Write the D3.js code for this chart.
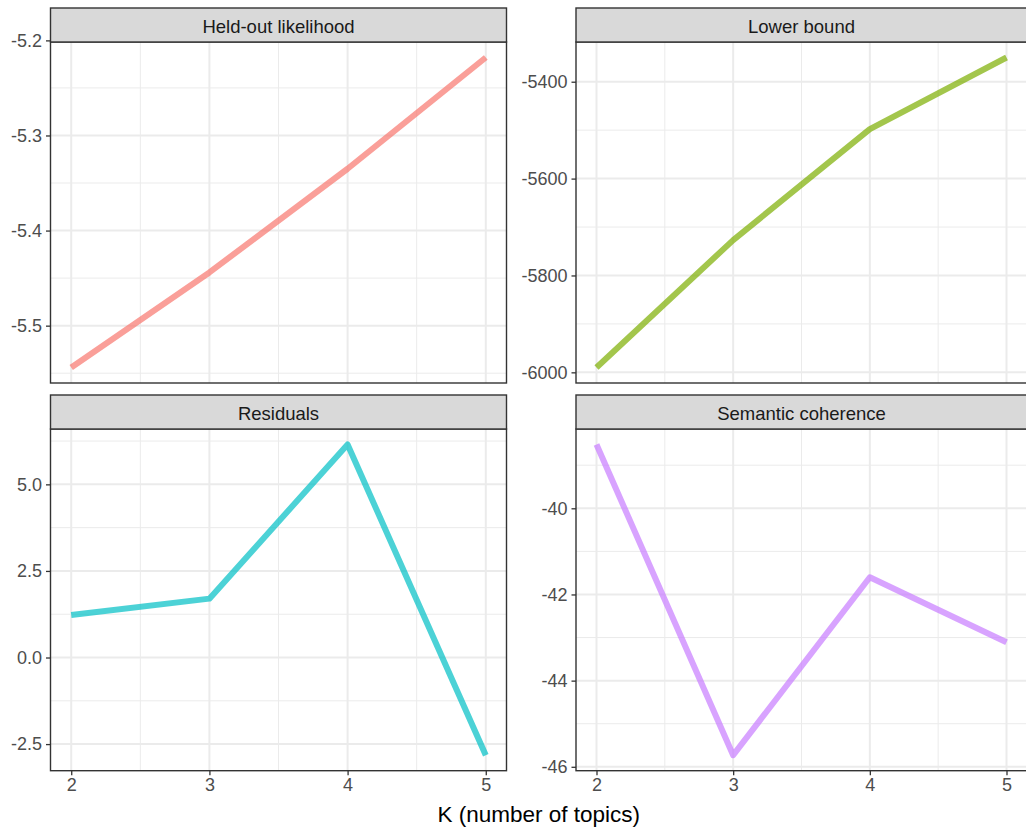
<!DOCTYPE html>
<html>
<head>
<meta charset="utf-8">
<script src="https://cdn.jsdelivr.net/npm/d3@7"></script>
<style>
  body { margin: 0; background: #fff; }
  svg { display: block; font-family: "Liberation Sans", Arial, sans-serif; }
</style>
</head>
<body>
<div id="chart"></div>
<script>
(function() {
  'use strict';

// values
const K = [2, 3, 4, 5];
const heldOut = [-5.544, -5.444, -5.335, -5.218];
const lowerBound = [-5990, -5727, -5498, -5350];
const residuals = [1.23, 1.70, 6.15, -2.82];
const coherence = [-38.52, -45.73, -41.60, -43.11];

const facetNames = ["Held-out likelihood", "Lower bound", "Residuals", "Semantic coherence"];
const facetColors = ["#F8766D", "#7CAE00", "#00BFC4", "#C77CFF"];

const heldOutTicks = [-5.5, -5.4, -5.3, -5.2];
const lowerBoundTicks = [-6000, -5800, -5600, -5400];
const residualTicks = [-2.5, 0, 2.5, 5];
const coherenceTicks = [-46, -44, -42, -40];
const xTicks = [2, 3, 4, 5];

const W = 1026;
const H = 829;

const cols = [{ x0: 50.5, x1: 506.5 }, { x0: 576, x1: 1027 }];
const rows = [{ strip: 8, top: 42, bottom: 383 }, { strip: 395, top: 429, bottom: 770.7 }];

const facets = [
  { name: facetNames[0], values: heldOut, ticks: heldOutTicks, fmt: d => d.toFixed(1), col: 0, row: 0 },
  { name: facetNames[1], values: lowerBound, ticks: lowerBoundTicks, fmt: d => d.toFixed(0), col: 1, row: 0 },
  { name: facetNames[2], values: residuals, ticks: residualTicks, fmt: d => d.toFixed(1), col: 0, row: 1 },
  { name: facetNames[3], values: coherence, ticks: coherenceTicks, fmt: d => d.toFixed(0), col: 1, row: 1 }
];

const svg = d3.select("#chart")
  .append("svg")
    .attr("width", W)
    .attr("height", H);

// ggplot style 5% expansion
function expand(ext) {
  const pad = (ext[1] - ext[0]) * 0.05;
  return [ext[0] - pad, ext[1] + pad];
}

function minorBreaks(ticks, domain) {
  const step = ticks[1] - ticks[0];
  const out = [ticks[0] - step / 2];
  ticks.forEach(t => out.push(t + step / 2));
  return out.filter(v => v >= domain[0] && v <= domain[1]);
}

facets.forEach((f, i) => {
  const c = cols[f.col];
  const r = rows[f.row];

  const x = d3.scaleLinear()
    .domain(expand(d3.extent(K)))
    .range([c.x0, c.x1]);

  const yDomain = expand(d3.extent(f.values));
  const y = d3.scaleLinear()
    .domain(yDomain)
    .range([r.bottom, r.top]);

  const g = svg.append("g").attr("class", "facet");

  // grid
  const xMinor = minorBreaks(xTicks, x.domain());
  const yMinor = minorBreaks(f.ticks, yDomain);

  g.selectAll(".xminor").data(xMinor).enter().append("line")
    .attr("x1", d => x(d)).attr("x2", d => x(d))
    .attr("y1", r.top).attr("y2", r.bottom)
    .attr("stroke", "#EBEBEB").attr("stroke-width", 1);
  g.selectAll(".yminor").data(yMinor).enter().append("line")
    .attr("x1", c.x0).attr("x2", c.x1)
    .attr("y1", d => y(d)).attr("y2", d => y(d))
    .attr("stroke", "#EBEBEB").attr("stroke-width", 1);
  g.selectAll(".xmajor").data(xTicks).enter().append("line")
    .attr("x1", d => x(d)).attr("x2", d => x(d))
    .attr("y1", r.top).attr("y2", r.bottom)
    .attr("stroke", "#EBEBEB").attr("stroke-width", 2);
  g.selectAll(".ymajor").data(f.ticks).enter().append("line")
    .attr("x1", c.x0).attr("x2", c.x1)
    .attr("y1", d => y(d)).attr("y2", d => y(d))
    .attr("stroke", "#EBEBEB").attr("stroke-width", 2);

  // the series
  const line = d3.line()
    .x((d, j) => x(K[j]))
    .y(d => y(d));

  g.append("path")
    .datum(f.values)
    .attr("d", line)
    .attr("fill", "none")
    .attr("stroke", facetColors[i])
    .attr("stroke-opacity", 0.7)
    .attr("stroke-width", 6)
    .attr("stroke-linejoin", "round")
    .attr("stroke-linecap", "butt");

  // panel border
  g.append("rect")
    .attr("x", c.x0).attr("y", r.top)
    .attr("width", c.x1 - c.x0).attr("height", r.bottom - r.top)
    .attr("fill", "none").attr("stroke", "#333333").attr("stroke-width", 1.4);

  // strip
  g.append("rect")
    .attr("x", c.x0).attr("y", r.strip)
    .attr("width", c.x1 - c.x0).attr("height", r.top - r.strip)
    .attr("fill", "#D9D9D9").attr("stroke", "#333333").attr("stroke-width", 1.4);
  g.append("text")
    .attr("x", (c.x0 + c.x1) / 2)
    .attr("y", (r.strip + r.top) / 2 + 1.5)
    .attr("dy", "0.36em")
    .attr("text-anchor", "middle")
    .attr("fill", "#1A1A1A")
    .style("font-size", "18.5px")
    .text(f.name);

  // y axis
  const yAxis = d3.axisLeft(y)
    .tickValues(f.ticks)
    .tickFormat(f.fmt)
    .tickSize(4.5)
    .tickPadding(4);
  const ya = g.append("g")
    .attr("transform", `translate(${c.x0}, 0)`)
    .call(yAxis);
  ya.select(".domain").remove();
  ya.selectAll("line").attr("stroke", "#333333").attr("stroke-width", 1.3);
  ya.selectAll("text").attr("fill", "#4D4D4D").style("font-size", "18px").style("font-family", "inherit");

  // x axis on bottom row only
  if (f.row === 1) {
    const xAxis = d3.axisBottom(x)
      .tickValues(xTicks)
      .tickFormat(d3.format("d"))
      .tickSize(4.5)
      .tickPadding(3);
    const xa = g.append("g")
      .attr("transform", `translate(0, ${r.bottom})`)
      .call(xAxis);
    xa.select(".domain").remove();
    xa.selectAll("line").attr("stroke", "#333333").attr("stroke-width", 1.3);
    xa.selectAll("text").attr("fill", "#4D4D4D").style("font-size", "18px").style("font-family", "inherit");
  }
});

svg.append("text")
  .attr("x", (cols[0].x0 + cols[1].x1) / 2)
  .attr("y", 822)
  .attr("text-anchor", "middle")
  .attr("fill", "#000")
  .style("font-size", "22.5px")
  .text("K (number of topics)");

})();
</script>
</body>
</html>
